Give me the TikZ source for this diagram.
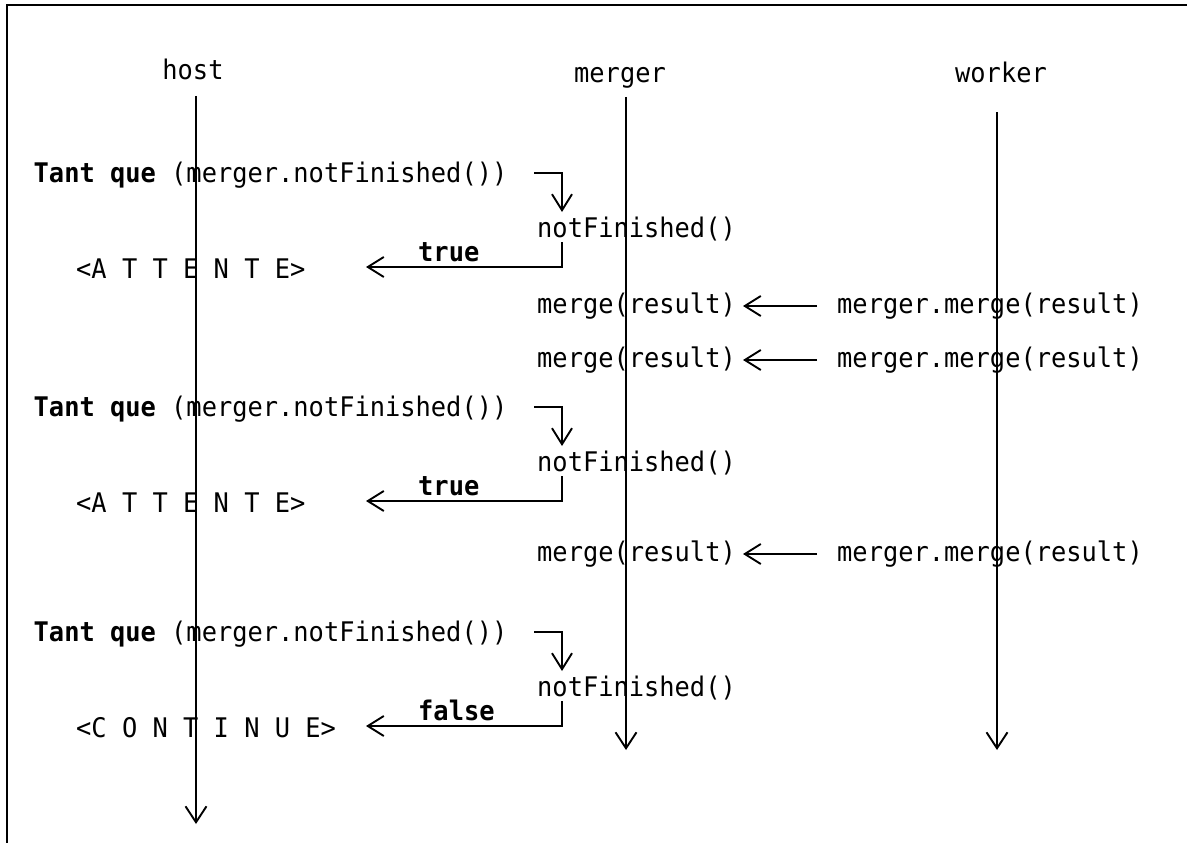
\documentclass[tikz,border=0pt]{standalone}
\usepackage{fontspec}
\usetikzlibrary{arrows.meta}
\newfontfamily\codefont[FakeStretch=0.94]{DejaVu Sans Mono}
\begin{document}
\begin{tikzpicture}[x=1pt,y=-1pt,
  txt/.style={inner sep=0pt, anchor=base west, font=\codefont\fontsize{27}{32}\selectfont},
  head/.style={inner sep=0pt, anchor=base, font=\codefont\fontsize{27}{32}\selectfont},
  life/.style={line width=1.9pt, -{Straight Barb[length=16pt,width=21pt]}},
  msg/.style={line width=1.9pt, -{Straight Barb[length=16pt,width=20pt]}},
  frame/.style={line width=2.6pt}]
\useasboundingbox (0,0) rectangle (1187,843);

% outer frame (only its top and left sides fall inside the page)
\coordinate (fTR) at (1190,5);
\coordinate (fTL) at (7,5);
\coordinate (fBL) at (7,846);
\draw[frame] (fTR) -- (fTL) -- (fBL);

% participants and their lifelines
\node[head] (host)   at (193,80) {host};
\node[head] (merger) at (620,83) {merger};
\node[head] (worker) at (1001,83) {worker};
\coordinate (hostTop) at (196,96);   \coordinate (hostEnd) at (196,824);
\coordinate (mergerTop) at (626,97); \coordinate (mergerEnd) at (626,750);
\coordinate (workerTop) at (997,112);\coordinate (workerEnd) at (997,750);
\draw[life] (hostTop) -- (hostEnd);
\draw[life] (mergerTop) -- (mergerEnd);
\draw[life] (workerTop) -- (workerEnd);

% one polling round: loop test, call, answer and host state
% #1 = baseline of the loop line, #2 = answer, #3 = host state, #4 = suffix
\newcommand{\pollround}[4]{%
  \node[txt] (loop#4) at (33.5,#1) {\textbf{Tant que} (merger.notFinished())};
  \node[txt] (call#4) at (537,#1+55) {notFinished()};
  \node[txt] (ans#4) at (418,#1+79) {\textbf{#2}};
  \node[txt] (state#4) at (76,#1+96) {#3};
  \coordinate (qa#4) at (534,#1-9);
  \coordinate (qb#4) at (562,#1+30);
  \coordinate (ra#4) at (562,#1+60);
  \coordinate (rb#4) at (366,#1+85);
  \draw[msg] (qa#4) -| (qb#4);
  \draw[msg] (ra#4) |- (rb#4);
}
% a worker handing its result to the merger; #1 = baseline, #2 = suffix
\newcommand{\mergecall}[2]{%
  \node[txt] (mg#2) at (537,#1) {merge(result)};
  \node[txt] (wk#2) at (837,#1) {merger.merge(result)};
  \coordinate (ma#2) at (817,#1-7);
  \coordinate (mb#2) at (743,#1-7);
  \draw[msg] (ma#2) -- (mb#2);
}

\pollround{182}{true}{<A T T E N T E>}{A}
\mergecall{313}{A}
\mergecall{367}{B}
\pollround{416}{true}{<A T T E N T E>}{B}
\mergecall{561}{C}
\pollround{641}{false}{<C O N T I N U E>}{C}
\end{tikzpicture}
\end{document}
